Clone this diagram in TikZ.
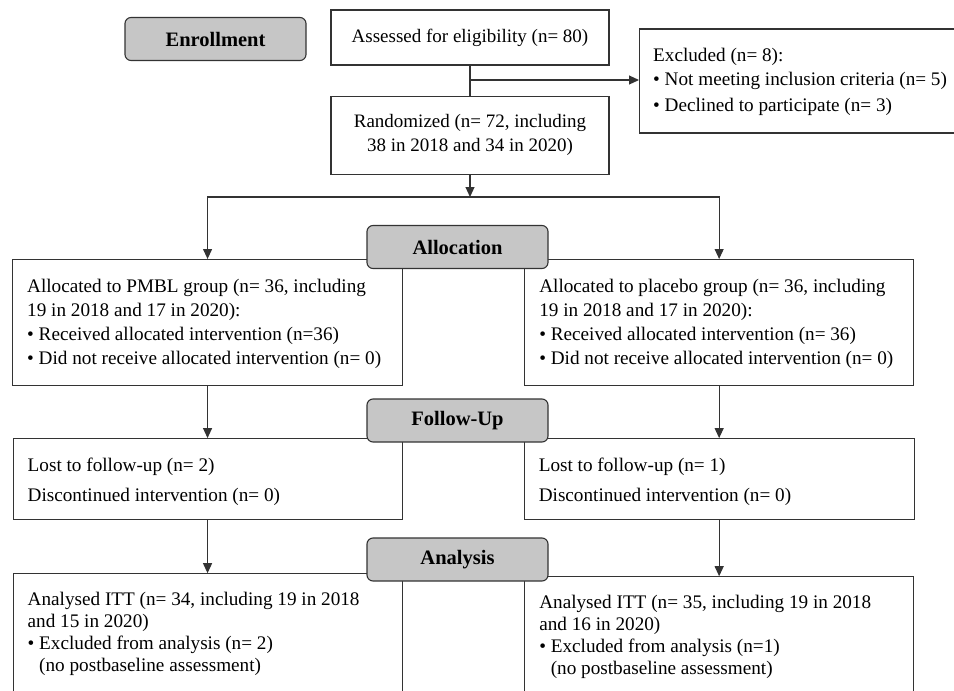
\documentclass[tikz,border=0pt]{standalone}
\usepackage{fontspec}
\setmainfont{Liberation Serif}
\usepackage{tikz}
\usetikzlibrary{arrows.meta, positioning}

\begin{document}
\begin{tikzpicture}[x=1pt, y=1pt,
    frame/.style={draw=black!80, line width=1.1pt, rectangle, inner sep=0pt},
    entry/.style={frame, align=center, font=\fontsize{19}{24}\selectfont},
    listtext/.style={align=left, inner sep=0pt, font=\fontsize{19.2}{24}\selectfont},
    stage/.style={draw=black!80, line width=1.1pt, fill=gray!45, rounded corners=6pt,
        minimum width=181pt, minimum height=43pt, inner sep=0pt,
        font=\bfseries\fontsize{20.5}{24}\selectfont},
    line/.style={color=black!80, line width=1.1pt},
    arrow/.style={line, -{Triangle[length=10pt, width=9pt]}}]
    \useasboundingbox (0,0) rectangle (954,-691);
    \clip (0,0) rectangle (954,-691);

    % enrollment
    \node[entry, minimum width=278pt, minimum height=55pt](assess) at (470,-37.5){Assessed for eligibility (n= 80)};
    \node[entry, minimum width=278pt, minimum height=78pt](rand)[below=30pt of assess]{Randomized (n= 72, including\\38 in 2018 and 34 in 2020)};
    \node[frame, minimum width=380pt, minimum height=104pt, anchor=west](excl) at (639,-81){};
    \node[listtext, anchor=west](exclText) at ([shift={(14pt,-1pt)}]excl.west){Excluded (n= 8):\\
        • Not meeting inclusion criteria (n= 5)\\[2pt]
        • Declined to participate (n= 3)};

    % allocation
    \node[frame, minimum width=390pt, minimum height=126pt, anchor=north west](allocL) at (12,-259){};
    \node[frame, minimum width=389pt, minimum height=126pt](allocR)[right=121pt of allocL]{};
    \node[listtext, anchor=west](allocLText) at ([shift={(15pt,-1.5pt)}]allocL.west){Allocated to PMBL group (n= 36, including\\
        19 in 2018 and 17 in 2020):\\
        • Received allocated intervention (n=36)\\
        • Did not receive allocated intervention (n= 0)};
    \node[listtext, anchor=west](allocRText) at ([shift={(15pt,-1.5pt)}]allocR.west){Allocated to placebo group (n= 36, including\\
        19 in 2018 and 17 in 2020):\\
        • Received allocated intervention (n= 36)\\
        • Did not receive allocated intervention (n= 0)};

    % follow-up
    \node[frame, minimum width=389pt, minimum height=81pt](followL)[below=52pt of allocL]{};
    \node[frame, minimum width=390pt, minimum height=81pt](followR)[below=52pt of allocR]{};
    \node[listtext, anchor=west](followLText) at ([shift={(15pt,-2.5pt)}]followL.west){Lost to follow-up (n= 2)\\[6pt]Discontinued intervention (n= 0)};
    \node[listtext, anchor=west](followRText) at ([shift={(15pt,-2.5pt)}]followR.west){Lost to follow-up (n= 1)\\[6pt]Discontinued intervention (n= 0)};

    % analysis
    \node[frame, minimum width=389pt, minimum height=140pt](anaL)[below=53pt of followL]{};
    \node[frame, minimum width=389pt, minimum height=140pt](anaR)[below=56pt of followR]{};
    \node[listtext, font=\fontsize{19.2}{22}\selectfont, anchor=north west](anaLText) at ([shift={(15pt,-19pt)}]anaL.north west){Analysed ITT (n= 34, including 19 in 2018\\
        and 15 in 2020)\\
        • Excluded from analysis (n= 2)\\
        \hphantom{• }(no postbaseline assessment)};
    \node[listtext, font=\fontsize{19.2}{22}\selectfont, anchor=north west](anaRText) at ([shift={(15pt,-19pt)}]anaR.north west){Analysed ITT (n= 35, including 19 in 2018\\
        and 16 in 2020)\\
        • Excluded from analysis (n=1)\\
        \hphantom{• }(no postbaseline assessment)};

    % connectors
    \coordinate (split) at (470,-80);
    \coordinate (fork) at (470,-197);
    \path[line] (assess) edge (rand);
    \path[arrow]
    (split)     edge (split -| excl.west)
    (rand)      edge (fork)
    (allocL)    edge (followL)
    (allocR)    edge (followR)
    (followL)   edge (anaL)
    (followR)   edge (anaR);
    \draw[arrow] (fork) -| (allocL);
    \draw[arrow] (fork) -| (allocR);

    % stage labels
    \node[stage](enroll) at (215.5,-39){Enrollment};
    \node[stage](alloc) at (457.5,-247){Allocation};
    \node[stage](follow) at (457.5,-420.5){Follow-Up};
    \node[stage](analysis) at (457.5,-559.5){Analysis};
\end{tikzpicture}
\end{document}
